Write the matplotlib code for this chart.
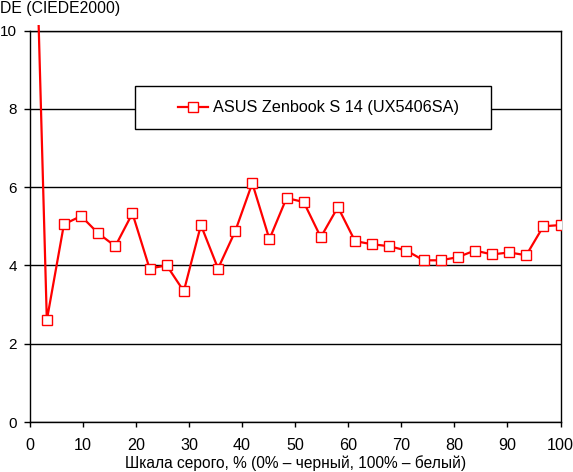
import matplotlib
matplotlib.use("Agg")
import matplotlib.pyplot as plt
from matplotlib.patches import Rectangle
import numpy as np

plt.rcParams['font.family'] = ['Liberation Sans', 'DejaVu Sans']

# Data
gray_levels = np.arange(32) * 100 / 31
delta_e = [18.4, 2.60, 5.05, 5.26, 4.82, 4.49, 5.33, 3.92, 4.00, 3.34,
           5.03, 3.92, 4.87, 6.10, 4.67, 5.72, 5.62, 4.72, 5.49, 4.62,
           4.54, 4.49, 4.38, 4.13, 4.13, 4.21, 4.38, 4.28, 4.33, 4.26,
           5.00, 5.03]
series_name = "ASUS Zenbook S 14 (UX5406SA)"
x_ticks = list(range(0, 101, 10))
y_ticks = list(range(0, 11, 2))
x_label = "Шкала серого, % (0% – черный, 100% – белый)"
y_label = "DE (CIEDE2000)"

W, H = 573, 472
fig = plt.figure(figsize=(W / 100, H / 100), dpi=100)
ax = fig.add_axes([29.7 / W, (H - 422) / H, (560.5 - 29.7) / W, (422 - 30.5) / H])

ax.set_xlim(0, 100)
ax.set_ylim(0, 10)
ax.set_xticks(x_ticks)
ax.set_yticks(y_ticks)
ax.yaxis.grid(True, color='black', linewidth=1.0)
ax.set_axisbelow(True)
for s in ax.spines.values():
    s.set_color('black')
    s.set_linewidth(1.0)

ax.tick_params(axis='x', direction='out', length=3.6, width=1.0, pad=8.0, labelsize=11.6)
ax.tick_params(axis='y', direction='out', length=4.1, width=1.0, pad=5.0, labelsize=11.0)

line, = ax.plot(gray_levels, delta_e, color='#ff0000', linewidth=1.6,
                marker='s', markersize=7.0, markerfacecolor='white',
                markeredgecolor='#ff0000', markeredgewidth=1.0,
                label=series_name, zorder=3)
line.set_markevery(list(range(1, len(delta_e))))
clip = Rectangle((0, -0.05), 1, 1.064, transform=ax.transAxes)
line.set_clip_path(clip)

# legend frame
frame = Rectangle((135 / W, (H - 129) / H), (491 - 135) / W, 43 / H,
                  transform=fig.transFigure, facecolor='white',
                  edgecolor='black', linewidth=1.0, zorder=5)
fig.patches.append(frame)
leg = fig.legend(handles=[line], labels=[series_name], loc='center left',
                 bbox_to_anchor=(178 / W, (H - 107.7) / H), frameon=False,
                 borderpad=0, borderaxespad=0, handlelength=1.85,
                 handletextpad=0.28, fontsize=11.7)
leg.set_zorder(6)

fig.text(0.0, 1 - 13.3 / H, y_label, ha='left', va='baseline', fontsize=11.3)
fig.text((29.7 + 560.5) / 2 / W, (H - 468.3) / H, x_label, ha='center',
         va='baseline', fontsize=11.2)

fig.savefig("out.png", dpi=100, facecolor='white')
